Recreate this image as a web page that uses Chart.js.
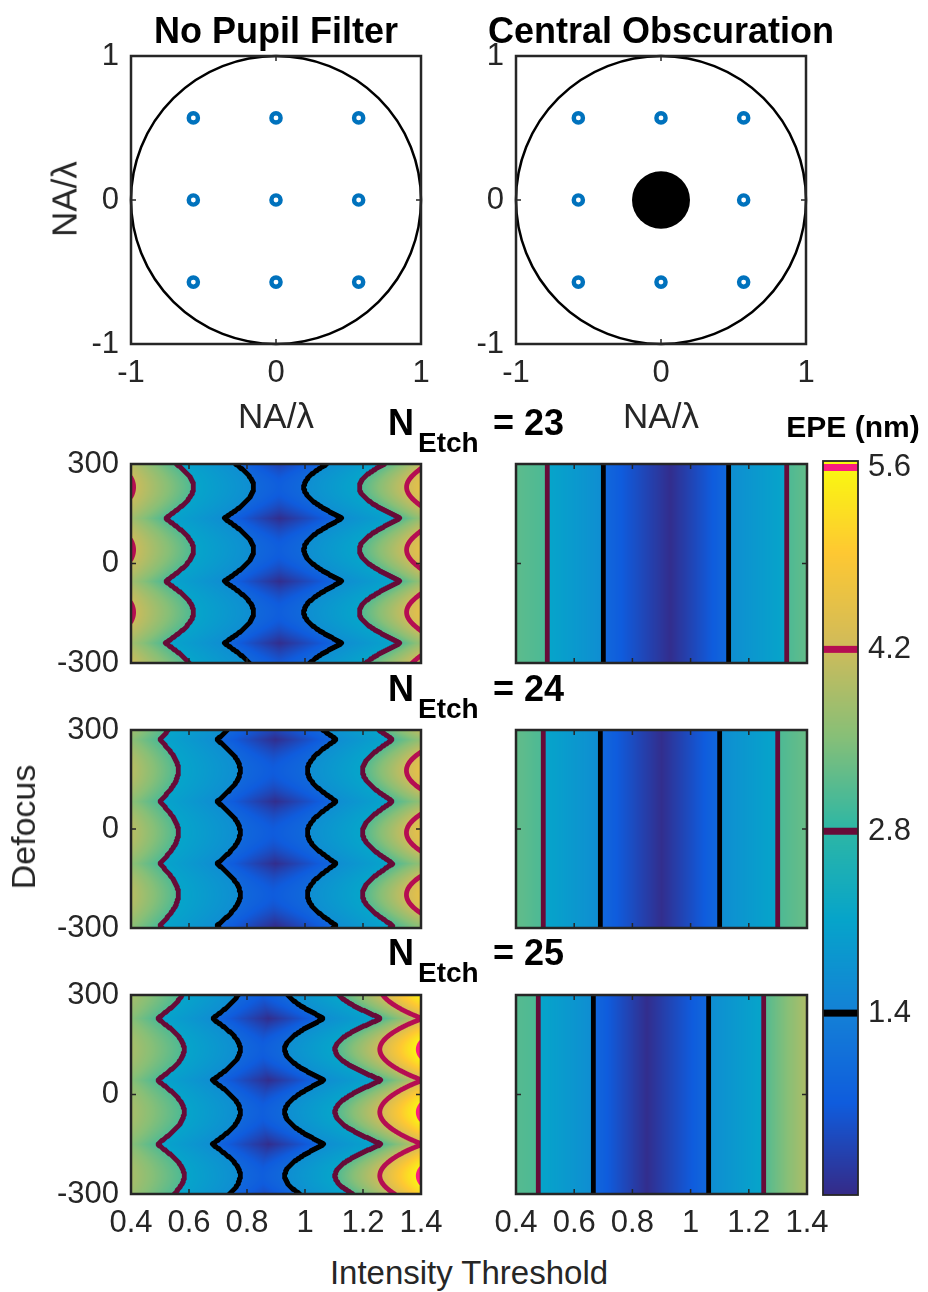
<!DOCTYPE html>
<html>
<head>
<meta charset="utf-8">
<script src="https://cdn.jsdelivr.net/npm/chart.js@4.4.0/dist/chart.umd.min.js"></script>
<style>
  body { margin: 0; background: #fff; }
  #fig { position: relative; width: 928px; height: 1292px; overflow: hidden;
         font-family: "Liberation Sans", Arial, sans-serif; color: #262626; }
  #fig canvas { position: absolute; }
  .lbl { position: absolute; white-space: nowrap; line-height: 1; }
</style>
</head>
<body>
<div id="fig"></div>
<script>
// --- data ---
const etchCounts = [23, 24, 25];
const thresholdRange = [0.4, 1.4];
const defocusRange = [-300, 300];
const epeRange = [0, 5.65];
const contourLevels = [1.4, 2.8, 4.2, 5.6];

// pupil plots: source points and apertures (NA/lambda units)
const sourceX = [-0.57, 0, 0.57, -0.57, 0, 0.57, -0.57, 0, 0.57];
const sourceY = [0.57, 0.57, 0.57, 0, 0, 0, -0.57, -0.57, -0.57];
const pupilRadius = 1;
const obscurationRadius = 0.2;

// No pupil filter: EPE profile along threshold on the rows of the dark spots (dip)
// and half way between them (mid); repeated breakpoints are steps in EPE
const n23DipDefocus = [324, 136, -54, -240, -428];
const n23DipThreshold = [0.40, 0.520, 0.520, 0.722, 0.722, 0.912, 1.127, 1.127, 1.328, 1.328, 1.40];
const n23DipEPE       = [3.80, 3.05, 2.15, 1.65, 0.95, 0.05, 0.95, 1.65, 2.15, 3.05, 3.70];
const n23MidThreshold = [0.40, 0.616, 0.616, 0.823, 0.823, 0.910, 0.996, 0.996, 1.187, 1.187, 1.40];
const n23MidEPE       = [4.25, 3.05, 2.15, 1.65, 0.95, 0.75, 0.95, 1.65, 2.15, 3.05, 4.55];

const n24DipDefocus = [459, 271, 83, -105, -293, -481];
const n24DipThreshold = [0.40, 0.500, 0.500, 0.697, 0.697, 0.898, 1.108, 1.108, 1.302, 1.302, 1.40];
const n24DipEPE       = [3.60, 3.05, 2.15, 1.65, 0.95, 0.05, 0.95, 1.65, 2.15, 3.05, 3.65];
const n24MidThreshold = [0.40, 0.564, 0.564, 0.777, 0.777, 0.890, 1.008, 1.008, 1.198, 1.198, 1.40];
const n24MidEPE       = [4.00, 3.05, 2.15, 1.65, 0.95, 0.70, 0.95, 1.65, 2.15, 3.05, 4.58];

const n25DipDefocus = [419, 229, 43, -150, -340];
const n25DipThreshold = [0.40, 0.492, 0.492, 0.681, 0.681, 0.875, 1.065, 1.065, 1.262, 1.262, 1.330, 1.40];
const n25DipEPE       = [3.55, 3.05, 2.15, 1.65, 0.95, 0.05, 0.95, 1.65, 2.15, 3.05, 3.60, 4.15];
const n25MidThreshold = [0.40, 0.584, 0.584, 0.777, 0.777, 0.853, 0.930, 0.930, 1.103, 1.103, 1.258, 1.40];
const n25MidEPE       = [3.85, 3.05, 2.15, 1.65, 0.95, 0.75, 0.95, 1.65, 2.15, 3.05, 4.20, 5.70];

// Central obscuration: EPE does not change with defocus
const n23CoThreshold = [0.40, 0.507, 0.507, 0.700, 0.700, 0.930, 1.129, 1.129, 1.328, 1.328, 1.40];
const n23CoEPE       = [3.20, 3.05, 2.15, 1.65, 0.95, 0.05, 0.95, 1.65, 2.15, 3.05, 3.25];
const n24CoThreshold = [0.40, 0.493, 0.493, 0.689, 0.689, 0.900, 1.101, 1.101, 1.297, 1.297, 1.40];
const n24CoEPE       = [3.25, 3.05, 2.15, 1.65, 0.95, 0.05, 0.95, 1.65, 2.15, 3.05, 3.30];
const n25CoThreshold = [0.40, 0.479, 0.479, 0.665, 0.665, 0.850, 1.063, 1.063, 1.252, 1.252, 1.40];
const n25CoEPE       = [3.15, 3.05, 2.15, 1.65, 0.95, 0.05, 0.95, 1.65, 2.15, 3.10, 3.90];

// --- styles ---
const axisGray = '#262626';
const tickFont = { family: '"Liberation Sans", Arial, sans-serif', size: 31 };
const contourColors = ['#000000', '#670b38', '#b50d52', '#fb1d7f'];
const parulaStops = [[53,42,135],[15,92,221],[20,129,214],[6,164,202],[46,183,164],
                     [135,191,119],[209,187,89],[254,200,50],[249,251,14]];

const panels = [
  { dips: n23DipDefocus, dip: { th: n23DipThreshold, v: n23DipEPE }, mid: { th: n23MidThreshold, v: n23MidEPE } },
  { dips: n24DipDefocus, dip: { th: n24DipThreshold, v: n24DipEPE }, mid: { th: n24MidThreshold, v: n24MidEPE } },
  { dips: n25DipDefocus, dip: { th: n25DipThreshold, v: n25DipEPE }, mid: { th: n25MidThreshold, v: n25MidEPE } }
];
const coPanels = [
  { dip: { th: n23CoThreshold, v: n23CoEPE } },
  { dip: { th: n24CoThreshold, v: n24CoEPE } },
  { dip: { th: n25CoThreshold, v: n25CoEPE } }
];

function parula(v) {
  const n = parulaStops.length - 1;
  const t = Math.min(1, Math.max(0, (v - epeRange[0]) / (epeRange[1] - epeRange[0]))) * n;
  const i = Math.min(n - 1, Math.floor(t)), f = t - i;
  return parulaStops[i].map((c, k) => Math.round(c + (parulaStops[i + 1][k] - c) * f));
}

// profile for one defocus row: moves from the dip row profile to the mid row one
function rowProfile(panel, d) {
  if (!panel.dips) return panel.dip;
  const dips = panel.dips;
  let k = 0;
  while (k < dips.length - 2 && d < dips[k + 1]) k++;
  const hi = dips[k], lo = dips[k + 1];
  const t = Math.min(1, Math.max(0, Math.min(hi - d, d - lo) / ((hi - lo) / 2)));
  const w = Math.sin(t * Math.PI / 2);
  return {
    th: panel.dip.th.map((v, i) => v + (panel.mid.th[i] - v) * w),
    v: panel.dip.v.map((v, i) => v + (panel.mid.v[i] - v) * w)
  };
}

function evalProfile(p, x) {
  const th = p.th, v = p.v;
  let i = 0;
  while (i < th.length - 2 && x >= th[i + 1]) i++;
  const span = th[i + 1] - th[i];
  const f = span > 0 ? (x - th[i]) / span : 1;
  return v[i] + (v[i + 1] - v[i]) * Math.min(1, Math.max(0, f));
}

// marching squares on a 1px grid, in data space through the scales
function drawContours(ctx, a, xs, ys, panel) {
  const px = [], py = [];
  for (let p = a.left; p < a.right; p++) px.push(p);
  px.push(a.right);
  for (let p = a.top; p < a.bottom; p++) py.push(p);
  py.push(a.bottom);
  const ths = px.map(p => xs.getValueForPixel(p));
  const V = py.map(p => {
    const prof = rowProfile(panel, ys.getValueForPixel(p));
    return ths.map(t => evalProfile(prof, t));
  });
  ctx.save();
  ctx.beginPath();
  ctx.rect(a.left, a.top, a.right - a.left, a.bottom - a.top);
  ctx.clip();
  ctx.lineWidth = 4.8;
  ctx.lineCap = 'round';
  ctx.lineJoin = 'round';
  contourLevels.forEach((L, k) => {
    ctx.beginPath();
    const seg = (p, q) => { ctx.moveTo(p[0], p[1]); ctx.lineTo(q[0], q[1]); };
    for (let j = 0; j < py.length - 1; j++) {
      for (let i = 0; i < px.length - 1; i++) {
        const va = V[j][i], vb = V[j][i + 1], vc = V[j + 1][i + 1], vd = V[j + 1][i];
        const top = (va >= L) !== (vb >= L) ? [px[i] + (L - va) / (vb - va) * (px[i + 1] - px[i]), py[j]] : null;
        const right = (vb >= L) !== (vc >= L) ? [px[i + 1], py[j] + (L - vb) / (vc - vb) * (py[j + 1] - py[j])] : null;
        const bottom = (vd >= L) !== (vc >= L) ? [px[i] + (L - vd) / (vc - vd) * (px[i + 1] - px[i]), py[j + 1]] : null;
        const left = (va >= L) !== (vd >= L) ? [px[i], py[j] + (L - va) / (vd - va) * (py[j + 1] - py[j])] : null;
        const pts = [top, right, bottom, left].filter(Boolean);
        if (pts.length === 2) seg(pts[0], pts[1]);
        else if (pts.length === 4) {
          const centre = (va + vb + vc + vd) / 4;
          if ((centre >= L) === (va >= L)) { seg(top, right); seg(bottom, left); }
          else { seg(top, left); seg(right, bottom); }
        }
      }
    }
    ctx.strokeStyle = contourColors[k];
    ctx.stroke();
  });
  ctx.restore();
}

function heatPlugin(panel) {
  return {
    id: 'heat',
    beforeDatasetsDraw(chart) {
      const { ctx, chartArea: a, scales: { x, y } } = chart;
      const w = Math.round(a.right - a.left), h = Math.round(a.bottom - a.top);
      const off = document.createElement('canvas');
      off.width = w; off.height = h;
      const octx = off.getContext('2d');
      const img = octx.createImageData(w, h);
      const ths = [];
      for (let i = 0; i < w; i++) ths.push(x.getValueForPixel(a.left + i + 0.5));
      for (let j = 0; j < h; j++) {
        const prof = rowProfile(panel, y.getValueForPixel(a.top + j + 0.5));
        for (let i = 0; i < w; i++) {
          const c = parula(evalProfile(prof, ths[i]));
          const o = (j * w + i) * 4;
          img.data[o] = c[0]; img.data[o + 1] = c[1]; img.data[o + 2] = c[2]; img.data[o + 3] = 255;
        }
      }
      octx.putImageData(img, 0, 0);
      ctx.drawImage(off, a.left, a.top);
      drawContours(ctx, a, x, y, panel);
    }
  };
}

function pupilPlugin(obscured) {
  return {
    id: 'pupil',
    afterDatasetsDraw(chart) {
      const { ctx, scales: { x, y } } = chart;
      const cx = x.getPixelForValue(0), cy = y.getPixelForValue(0);
      ctx.save();
      ctx.strokeStyle = '#000';
      ctx.lineWidth = 2.5;
      ctx.beginPath();
      ctx.ellipse(cx, cy, x.getPixelForValue(pupilRadius) - cx, cy - y.getPixelForValue(pupilRadius), 0, 0, Math.PI * 2);
      ctx.stroke();
      if (obscured) {
        ctx.fillStyle = '#000';
        ctx.beginPath();
        ctx.ellipse(cx, cy, x.getPixelForValue(obscurationRadius) - cx, cy - y.getPixelForValue(obscurationRadius), 0, 0, Math.PI * 2);
        ctx.fill();
      }
      ctx.restore();
    }
  };
}

// MATLAB style box with small inward ticks
const framePlugin = {
  id: 'frame',
  afterDraw(chart) {
    const { ctx, chartArea: a, scales: { x, y } } = chart;
    ctx.save();
    ctx.strokeStyle = axisGray;
    ctx.lineWidth = 1.5;
    ctx.beginPath();
    x.ticks.forEach(t => {
      const p = x.getPixelForValue(t.value);
      ctx.moveTo(p, a.bottom); ctx.lineTo(p, a.bottom - 5);
      ctx.moveTo(p, a.top); ctx.lineTo(p, a.top + 5);
    });
    y.ticks.forEach(t => {
      const p = y.getPixelForValue(t.value);
      ctx.moveTo(a.left, p); ctx.lineTo(a.left + 5, p);
      ctx.moveTo(a.right, p); ctx.lineTo(a.right - 5, p);
    });
    ctx.stroke();
    ctx.lineWidth = 2.5;
    ctx.strokeRect(a.left, a.top, a.right - a.left, a.bottom - a.top);
    ctx.restore();
  }
};

const fig = document.getElementById('fig');

function addCanvas(left, top, width, height) {
  const c = document.createElement('canvas');
  c.width = width; c.height = height;
  c.style.left = left + 'px'; c.style.top = top + 'px';
  c.style.width = width + 'px'; c.style.height = height + 'px';
  fig.appendChild(c);
  return c;
}

// fixed axis boxes so that the plot area lands where it is in the figure
function fixX(h) { return s => { s.height = h; s.paddingLeft = 0; s.paddingRight = 0; }; }
function fixY(w) { return s => { s.width = w; s.paddingTop = 0; s.paddingBottom = 0; }; }

// area = wanted plot box [x0, y0, x1, y1], frame = canvas [left, top, width, height]
function axisChart({ area, frame, xRange, yRange, xStep, yStep, showX, showY, xPad, datasets, plugins }) {
  const [x0, y0, x1, y1] = area;
  const [cl, ct, cw, ch] = frame;
  const canvas = addCanvas(cl, ct, cw, ch);
  const fmt = v => String(+Number(v).toFixed(2));
  return new Chart(canvas, {
    type: 'scatter',
    data: { datasets: datasets || [] },
    options: {
      responsive: false,
      animation: false,
      devicePixelRatio: 1,
      layout: { padding: { left: 0, top: y0 - ct, right: cl + cw - x1, bottom: 0 } },
      plugins: { legend: { display: false }, tooltip: { enabled: false } },
      scales: {
        x: {
          type: 'linear', min: xRange[0], max: xRange[1],
          afterFit: fixX(ct + ch - y1),
          grid: { display: false, drawTicks: false }, border: { display: false },
          ticks: { display: showX, stepSize: xStep, padding: xPad, font: tickFont, color: axisGray,
                   maxRotation: 0, autoSkip: false, callback: fmt }
        },
        y: {
          type: 'linear', min: yRange[0], max: yRange[1],
          afterFit: fixY(x0 - cl),
          grid: { display: false, drawTicks: false }, border: { display: false },
          ticks: { display: showY, stepSize: yStep, padding: 12, font: tickFont, color: axisGray,
                   autoSkip: false, callback: fmt }
        }
      }
    },
    plugins: [...(plugins || []), framePlugin]
  });
}

// --- pupil plots ---
const sourcePoints = sourceX.map((x, i) => ({ x, y: sourceY[i] }));
const sourceStyle = {
  data: sourcePoints, pointStyle: 'circle', radius: 4.6, pointRadius: 4.6,
  borderWidth: 4.4, pointBorderWidth: 4.4, borderColor: '#0072BD', pointBorderColor: '#0072BD',
  backgroundColor: 'rgba(0,0,0,0)', pointBackgroundColor: 'rgba(0,0,0,0)', showLine: false
};
axisChart({ area: [131, 56, 421, 344], frame: [0, 0, 460, 400], xRange: [-1, 1], yRange: [-1, 1],
            xStep: 1, yStep: 1, showX: true, showY: true, xPad: 11,
            datasets: [{ ...sourceStyle }], plugins: [pupilPlugin(false)] });
axisChart({ area: [516, 56, 806, 344], frame: [460, 0, 468, 400], xRange: [-1, 1], yRange: [-1, 1],
            xStep: 1, yStep: 1, showX: true, showY: true, xPad: 11,
            datasets: [{ ...sourceStyle }], plugins: [pupilPlugin(true)] });

// --- EPE maps ---
const rowBoxes = [[464, 663], [730, 928], [995, 1194]];
rowBoxes.forEach(([r0, r1], k) => {
  const last = k === rowBoxes.length - 1;
  const fh = last ? 1250 - (r0 - 20) : (r1 - r0) + 40;
  axisChart({ area: [131, r0, 421, r1], frame: [0, r0 - 20, 460, fh],
              xRange: thresholdRange, yRange: defocusRange, xStep: 0.2, yStep: 300,
              showX: last, showY: true, xPad: 11, plugins: [heatPlugin(panels[k])] });
  axisChart({ area: [516, r0, 807, r1], frame: [460, r0 - 20, 385, fh],
              xRange: thresholdRange, yRange: defocusRange, xStep: 0.2, yStep: 300,
              showX: last, showY: false, xPad: 11, plugins: [heatPlugin(coPanels[k])] });
});

// --- colour bar ---
const colorbarPlugin = {
  id: 'colorbar',
  beforeDatasetsDraw(chart) {
    const { ctx, chartArea: a, scales: { y } } = chart;
    const w = a.right - a.left;
    ctx.save();
    for (let p = Math.floor(a.top); p < a.bottom; p++) {
      const c = parula(y.getValueForPixel(p + 0.5));
      ctx.fillStyle = `rgb(${c[0]},${c[1]},${c[2]})`;
      ctx.fillRect(a.left, p, w, 1);
    }
    contourLevels.forEach((L, k) => {
      ctx.fillStyle = contourColors[k];
      ctx.fillRect(a.left, y.getPixelForValue(L) - 3.5, w, 7);
    });
    ctx.strokeStyle = axisGray;
    ctx.lineWidth = 1.8;
    ctx.strokeRect(a.left, a.top, w, a.bottom - a.top);
    ctx.restore();
  }
};
new Chart(addCanvas(800, 440, 128, 780), {
  type: 'scatter',
  data: { datasets: [] },
  options: {
    responsive: false, animation: false, devicePixelRatio: 1,
    layout: { padding: { left: 23, top: 21, right: 0, bottom: 25 } },
    plugins: { legend: { display: false }, tooltip: { enabled: false } },
    scales: {
      x: { display: false, min: 0, max: 1 },
      y: {
        position: 'right', min: epeRange[0], max: epeRange[1],
        afterFit: fixY(70),
        afterBuildTicks: s => { s.ticks = contourLevels.map(v => ({ value: v })); },
        grid: { display: false, drawTicks: false }, border: { display: false },
        ticks: { padding: 10, font: tickFont, color: axisGray, callback: v => Number(v).toFixed(1) }
      }
    }
  },
  plugins: [colorbarPlugin]
});

// --- text ---
function label(text, x, y, size, opt = {}) {
  const d = document.createElement('div');
  d.className = 'lbl';
  d.textContent = text;
  d.style.fontSize = size + 'px';
  d.style.fontWeight = opt.bold ? 'bold' : 'normal';
  d.style.color = opt.bold ? '#000' : axisGray;
  d.style.left = x + 'px';
  if (opt.rotate) {
    d.style.top = y + 'px';
    d.style.transform = 'translate(-50%, -50%) rotate(-90deg)';
  } else {
    d.style.top = (y - 0.847 * size) + 'px';   // y is the baseline
    if (opt.center) d.style.transform = 'translateX(-50%)';
  }
  fig.appendChild(d);
}

label('No Pupil Filter', 276, 43, 36, { bold: true, center: true });
label('Central Obscuration', 661, 43, 36, { bold: true, center: true });
label('NA/λ', 276, 428, 35, { center: true });
label('NA/λ', 661, 428, 35, { center: true });
label('NA/λ', 64, 199, 35, { rotate: true });
label('Defocus', 23, 827, 34, { rotate: true });
label('Intensity Threshold', 469, 1284, 33, { center: true });
label('EPE (nm)', 853, 437, 30, { bold: true, center: true });

const etchBaselines = [435, 701, 965];
etchCounts.forEach((n, k) => {
  const b = etchBaselines[k];
  label('N', 388, b, 36, { bold: true });
  label('Etch', 418, b + 17.5, 28, { bold: true });
  label('= ' + n, 493, b, 36, { bold: true });
});
</script>
</body>
</html>
